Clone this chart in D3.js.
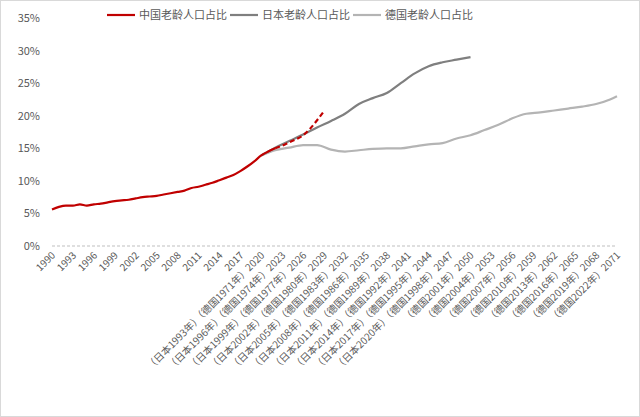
<!DOCTYPE html><html><head><meta charset="utf-8"><script src="https://cdn.jsdelivr.net/npm/d3@7"></script>
<style>body{margin:0;background:#fff}text{font-family:"Noto Sans CJK SC",sans-serif}</style></head><body><svg id="c" width="640" height="417"></svg><script>
const chinaYears=d3.range(1990,2030);
const chinaVals=[5.6,6.0,6.2,6.2,6.4,6.2,6.4,6.5,6.7,6.9,7.0,7.1,7.3,7.5,7.6,7.7,7.9,8.1,8.3,8.5,8.9,9.1,9.4,9.7,10.1,10.5,10.9,11.5,12.2,13.0,13.9,14.5,15.0,15.4,15.9,16.4,17.0,18.0,19.3,20.7];
const chinaSolidEnd=2022;
const japanYears=[2020,2022,2024,2026,2028,2030,2032,2034,2036,2038,2040,2042,2044,2046,2048,2050];
const japanVals=[13.9,15.1,16.1,17.1,18.2,19.2,20.3,21.8,22.7,23.5,25.0,26.5,27.6,28.2,28.6,29.0];
const germanyYears=[2020,2022,2024,2026,2028,2030,2032,2034,2036,2038,2040,2042,2044,2046,2048,2050,2052,2054,2056,2058,2060,2062,2064,2066,2068,2070,2071];
const germanyVals=[13.9,14.7,15.1,15.5,15.5,14.8,14.5,14.7,14.9,15.0,15.0,15.3,15.6,15.8,16.5,17.0,17.8,18.6,19.6,20.3,20.5,20.8,21.1,21.4,21.8,22.5,23.0];
const tickYears=d3.range(1990,2072,3);
const japanLabelYears=d3.range(1993,2021,3);
const germanyLabelYears=d3.range(1971,2023,3);
const yTicks=[0,5,10,15,20,25,30,35];
const seriesNames=["中国老龄人口占比","日本老龄人口占比","德国老龄人口占比"];
const colors=["#C00000","#7F7F7F","#B4B4B4"];

const svg=d3.select("#c");
svg.append("rect").attr("x",0.5).attr("y",0.5).attr("width",639).attr("height",416).attr("fill","none").attr("stroke","#d9d9d9");
const x=d3.scaleLinear().domain([1990,2071]).range([52,617]);
const y=d3.scaleLinear().domain([0,35]).range([246,18]);
svg.append("line").attr("x1",52).attr("x2",617).attr("y1",y(0)).attr("y2",y(0)).attr("stroke","#BFBFBF").attr("stroke-dasharray","3,2");
svg.append("g").selectAll("text").data(yTicks).join("text").attr("x",40).attr("y",d=>y(d)+4).attr("text-anchor","end").attr("font-size",11).attr("fill","#595959").text(d=>d+"%");
tickYears.forEach(yr=>{
  let s=String(yr);
  const i=(yr-2020)/3;
  if(i>=0&&i<germanyLabelYears.length) s="（德国"+germanyLabelYears[i]+"年）"+s;
  if(i>=0&&i<japanLabelYears.length) s="（日本"+japanLabelYears[i]+"年）"+s;
  svg.append("text").attr("transform",`translate(${x(yr)+4},${y(0)+10}) rotate(-45)`).attr("text-anchor","end").attr("font-size",10).attr("fill","#595959").text(s);
});
const line=d3.line().x(d=>x(d[0])).y(d=>y(d[1])).curve(d3.curveMonotoneX);
const ch=chinaYears.map((yr,i)=>[yr,chinaVals[i]]);
svg.append("path").attr("d",line(germanyYears.map((yr,i)=>[yr,germanyVals[i]]))).attr("fill","none").attr("stroke",colors[2]).attr("stroke-width",2.2);
svg.append("path").attr("d",line(japanYears.map((yr,i)=>[yr,japanVals[i]]))).attr("fill","none").attr("stroke",colors[1]).attr("stroke-width",2.2);
svg.append("path").attr("d",line(ch.filter(d=>d[0]<=chinaSolidEnd))).attr("fill","none").attr("stroke",colors[0]).attr("stroke-width",2.2);
svg.append("path").attr("d",line(ch.filter(d=>d[0]>=chinaSolidEnd))).attr("fill","none").attr("stroke",colors[0]).attr("stroke-width",2.2).attr("stroke-dasharray","5,3");
const lx=[107,230,353];
seriesNames.forEach((n,i)=>{
  svg.append("line").attr("x1",lx[i]).attr("x2",lx[i]+28).attr("y1",15).attr("y2",15).attr("stroke",colors[i]).attr("stroke-width",2.2);
  svg.append("text").attr("x",lx[i]+32).attr("y",19).attr("font-size",11).attr("fill","#595959").text(n);
});
</script></body></html>
